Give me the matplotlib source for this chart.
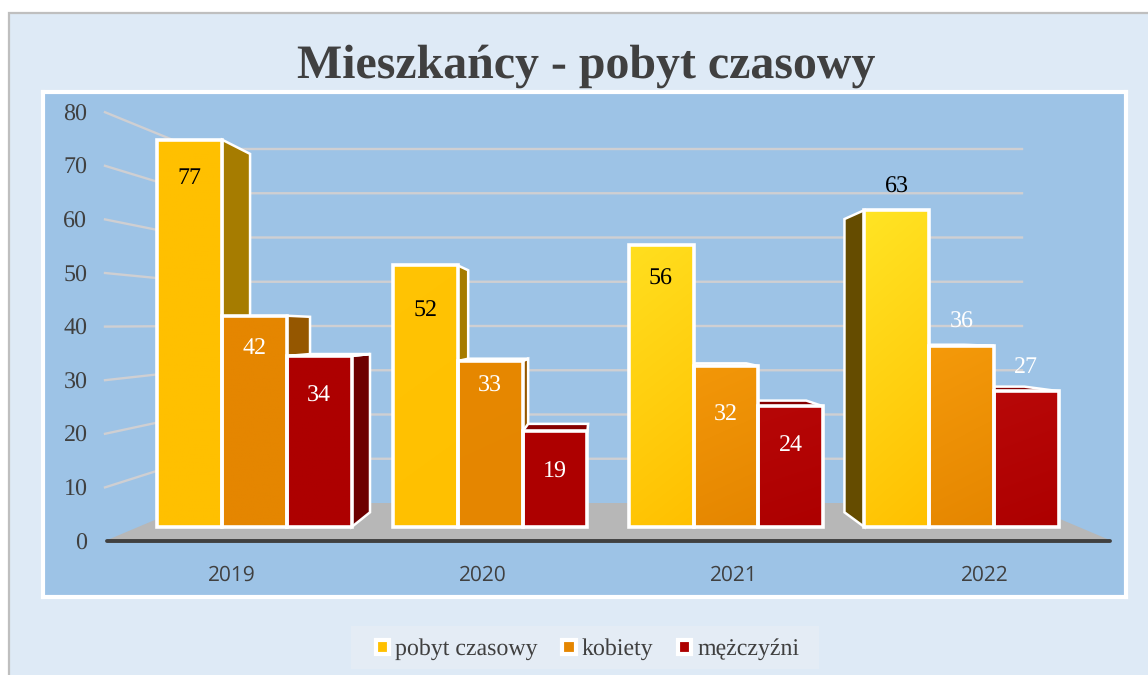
import numpy as np
import matplotlib
matplotlib.use("Agg")
import matplotlib.pyplot as plt
from matplotlib.patches import Polygon, Patch, Rectangle
from matplotlib.colors import to_rgb

# ---- data ----
years = ["2019", "2020", "2021", "2022"]
series_names = ["pobyt czasowy", "kobiety", "mężczyźni"]
pobyt = [77, 52, 56, 63]
kobiety = [42, 33, 32, 36]
mezczyzni = [34, 19, 24, 27]
y_ticks = [0, 10, 20, 30, 40, 50, 60, 70, 80]

# ---- styles ----
W, H = 1148, 675
face = ["#FFC000", "#E58600", "#AD0000"]
bright = ["#FFE424", "#F59A0A", "#B80808"]
shade = ["#A67C00", "#955700", "#6D0000"]
top_shade = ["#A67C00", "#B98A50", "#850000"]
group_glow = [0.0, 0.1, 0.85, 1.0]
label_colors = ["black", "white", "white"]
label_shift = [[39, 46, 34, -23], [32, 25, 49, -24], [40, 41, 39, -24]]
GREY = "#404040"
plt.rcParams["font.family"] = ["Liberation Serif", "DejaVu Sans"]
plt.rcParams["text.hinting"] = "no_hinting"

fig = plt.figure(figsize=(W / 100, H / 100), dpi=100, facecolor="white")
fig.add_artist(Rectangle((8.5 / W, -0.02), 1.2, (H - 12.5) / H + 0.02, transform=fig.transFigure,
                         facecolor="#DEEAF6", edgecolor="#BFBFBF", linewidth=1.6, zorder=-2))
# plot panel in pixels
pl, pr, pt, pb = 43, 1126, 91.5, 597
ax = fig.add_axes([pl / W, 1 - pb / H, (pr - pl) / W, (pb - pt) / H])

X0, DX = 254.5, 235.7
Y0, DY = 527.0, 5.03
BAR = 64.8 / DX
X = lambda p: (np.asarray(p, dtype=float) - X0) / DX
Y = lambda p: (Y0 - np.asarray(p, dtype=float)) / DY
ax.set_xlim(X(pl), X(pr))
ax.set_ylim(Y(pb), Y(pt))
ax.set_facecolor("#9DC3E6")
for s in ax.spines.values():
    s.set_color("white")
    s.set_linewidth(3)
    s.set_zorder(30)

# walls and floor
for v in y_ticks[1:]:
    ax.plot([X(105), X(195), X(1022)],
            [Y(541 - 5.36 * v), Y(503 - 4.425 * v), Y(503 - 4.425 * v)],
            color="#CFCFD2", lw=1.7, zorder=1, solid_joinstyle="miter")
ax.add_patch(Polygon([(X(105), Y(541)), (X(195), Y(503)), (X(1022), Y(503)), (X(1112), Y(541))],
                     closed=True, facecolor="#B7B7B7", edgecolor="none", zorder=2))
ax.plot([X(107), X(1110)], [Y(541), Y(541)], color=GREY, lw=2.8, solid_capstyle="round", zorder=3)

# perspective
VX, VY, K = X(597), Y(330), 0.0746
def back(x, y):
    return x + K * (VX - x), y + K * (VY - y)

series = [pobyt, kobiety, mezczyzni]
bars = []
for g in range(len(years)):
    for s in range(len(series)):
        bars.append((g + (s - 1) * BAR, series[s][g], s, g))

# side and top faces, far from the vanishing line first
for cx, val, s, g in sorted(bars, key=lambda b: -abs(b[0] - VX)):
    l, r = cx - BAR / 2, cx + BAR / 2
    sx = r if r < VX else l
    faces = []
    if abs(sx - VX) * DX * K > 3 and (r < VX or l > VX):
        faces.append(([(sx, 0), (sx, val), back(sx, val), back(sx, 0)],
                      shade[s] if g < 3 else "#654C00"))
    if val < VY:
        faces.append(([(l, val), (r, val), back(r, val), back(l, val)], top_shade[s]))
    for pts, col in faces:
        ax.add_patch(Polygon(pts, closed=True, facecolor=col, edgecolor="white",
                             linewidth=1.8, joinstyle="miter", zorder=4))

# front faces with their gradient
for s in range(len(series)):
    xs = [g + (s - 1) * BAR for g in range(len(years))]
    rects = ax.bar(xs, series[s], width=BAR, color=face[s], zorder=5, linewidth=0)
    for g, rect in enumerate(rects):
        t = np.linspace(0, 1, 64)[:, None] * 0.85 + np.linspace(0.15, 0, 32)[None, :]
        c0, c1 = np.array(to_rgb(face[s])), np.array(to_rgb(bright[s]))
        amt = np.clip(t, 0, 1)[..., None] * group_glow[g]
        img = c0 + (c1 - c0) * amt
        im = ax.imshow(img, origin="lower", aspect="auto", zorder=6, interpolation="bilinear",
                       extent=(xs[g] - BAR / 2, xs[g] + BAR / 2, 0, series[s][g]))
        im.set_clip_path(rect)
    ax.bar(xs, series[s], width=BAR, fill=False, edgecolor="white", linewidth=2.6,
           zorder=7, joinstyle="miter")
    for g, x in enumerate(xs):
        ax.annotate(str(series[s][g]), (x, series[s][g]),
                    xytext=(0, -label_shift[s][g] * 0.72), textcoords="offset points",
                    ha="center", va="center", fontsize=17.3, color=label_colors[s], zorder=9)
ax.set_xlim(X(pl), X(pr))
ax.set_ylim(Y(pb), Y(pt))

# axis labels
ax.set_yticks([float(Y(541 - 5.36 * v)) for v in y_ticks], [str(v) for v in y_ticks])
ax.set_xticks([float(X(232 + 251 * i)) for i in range(len(years))], years)
ax.tick_params(axis="y", length=0, pad=-32, labelsize=17.3, labelcolor=GREY)
ax.tick_params(axis="x", length=0, pad=-23, labelsize=15, labelcolor=GREY)
for lab in ax.get_xticklabels():
    lab.set_fontfamily("Open Sans")
for lab in ax.get_yticklabels() + ax.get_xticklabels():
    lab.set_zorder(20)
ax.set_axisbelow(False)

fig.text(586 / W, 1 - 66 / H, "Mieszkańcy - pobyt czasowy", ha="center", va="center",
         fontsize=34.5, fontweight="bold", color=GREY, zorder=5)

# legend
fig.add_artist(Rectangle((351 / W, 1 - 669 / H), 468 / W, 43 / H, transform=fig.transFigure,
                         facecolor="#E4ECF5", edgecolor="none", zorder=-1))
handles = [Patch(facecolor=c, edgecolor="white", linewidth=3) for c in face]
leg = fig.legend(handles, series_names, loc="center", bbox_to_anchor=(587.5 / W, 1 - 649.5 / H),
                 ncol=3, frameon=False, fontsize=17.2, labelcolor=GREY, handlelength=0.55,
                 handleheight=0.55, handletextpad=0.25, columnspacing=1.05)

fig.savefig("out.png", dpi=100)
